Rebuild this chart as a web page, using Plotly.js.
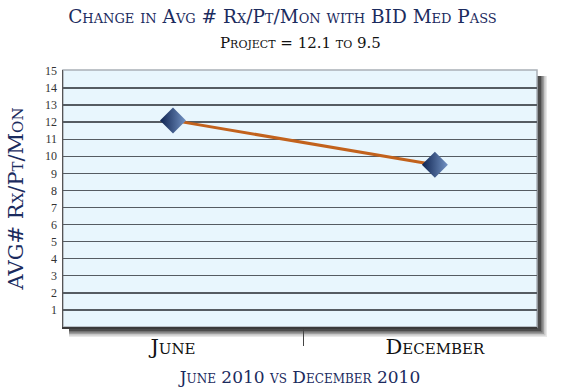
<!DOCTYPE html>
<html><head><meta charset="utf-8">
<script src="https://cdn.plot.ly/plotly-3.0.1.min.js"></script>
<style>body{margin:0;background:#fff}#c{width:565px;height:391px}</style>
</head><body><div id="c"></div>
<script>
const categories = ["June", "December"];
const avgRx = [12.1, 9.5];
const yTicks = [1,2,3,4,5,6,7,8,9,10,11,12,13,14,15];

const serif = "DejaVu Serif, Liberation Serif, serif";
const navy = "#1b2b5e";

const trace = {
  x: categories, y: avgRx, type: "scatter", mode: "lines+markers",
  line: {color: "#c2621c", width: 3},
  marker: {symbol: "diamond", size: 20, color: "#0e2350",
           gradient: {type: "horizontal", color: "#7393c4"},
           line: {width: 0}},
  hoverinfo: "skip"
};

const PX = 1/474, PY = 1/257;
const shapes = [];
const shades = [0.10, 0.16, 0.24, 0.34, 0.45];
for (let i = 0; i < shades.length; i++) {
  const o = 10 - i*1.5;
  shapes.push({type: "rect", xref: "paper", yref: "paper", layer: "below",
    x0: 6*PX, x1: 1 + o*PX, y0: -o*PY, y1: 1 - 6*PY,
    fillcolor: "rgba(30,30,30," + shades[i] + ")", line: {width: 0}});
}
shapes.push({type: "rect", xref: "paper", yref: "paper", layer: "below",
  x0: 0, x1: 1, y0: 0, y1: 1, fillcolor: "#e8f6fd",
  line: {color: "#a9b0b6", width: 1.5}});

const layout = {
  width: 565, height: 391,
  margin: {l: 63, r: 28, t: 70, b: 64},
  paper_bgcolor: "#ffffff", plot_bgcolor: "rgba(0,0,0,0)",
  showlegend: false,
  title: {text: "Change in Avg # Rx/Pt/Mon with BID Med Pass",
    x: 0.5, xanchor: "center", yref: "container", y: 1 - 17/391, yanchor: "middle",
    font: {family: serif, size: 18.5, color: navy, variant: "small-caps"}},
  annotations: [{text: "Project = 12.1 to 9.5", xref: "paper", yref: "paper",
    x: 0.5, y: 1 + 27*PY, xanchor: "center", yanchor: "middle", showarrow: false,
    font: {family: serif, size: 15, color: "#111", variant: "small-caps"}}],
  xaxis: {type: "category", range: [-0.42, 1.39], showgrid: false, zeroline: false,
    ticks: "outside", tickson: "boundaries", ticklen: 17, tickcolor: "#444", tickwidth: 1,
    tickfont: {family: serif, size: 21, color: "#111", variant: "small-caps"},
    showline: true, linecolor: "#3a3a3a", linewidth: 2,
    title: {text: "June 2010 vs December 2010", standoff: 13,
      font: {family: serif, size: 17, color: navy, variant: "small-caps"}}},
  yaxis: {range: [0, 15.05], tickvals: yTicks, ticktext: yTicks.map(String),
    showgrid: true, gridcolor: "#555c62", gridwidth: 1.3, zeroline: false,
    ticks: "", ticklabelstandoff: 2,
    tickfont: {family: "Liberation Serif, serif", size: 12, color: "#333"},
    showline: true, linecolor: "#555", linewidth: 1.5,
    title: {text: "AVG# Rx/Pt/Mon", standoff: 15,
      font: {family: serif, size: 21, color: navy, variant: "small-caps"}}},
  shapes: shapes
};

Plotly.newPlot("c", [trace], layout, {staticPlot: true, displayModeBar: false});
</script></body></html>
